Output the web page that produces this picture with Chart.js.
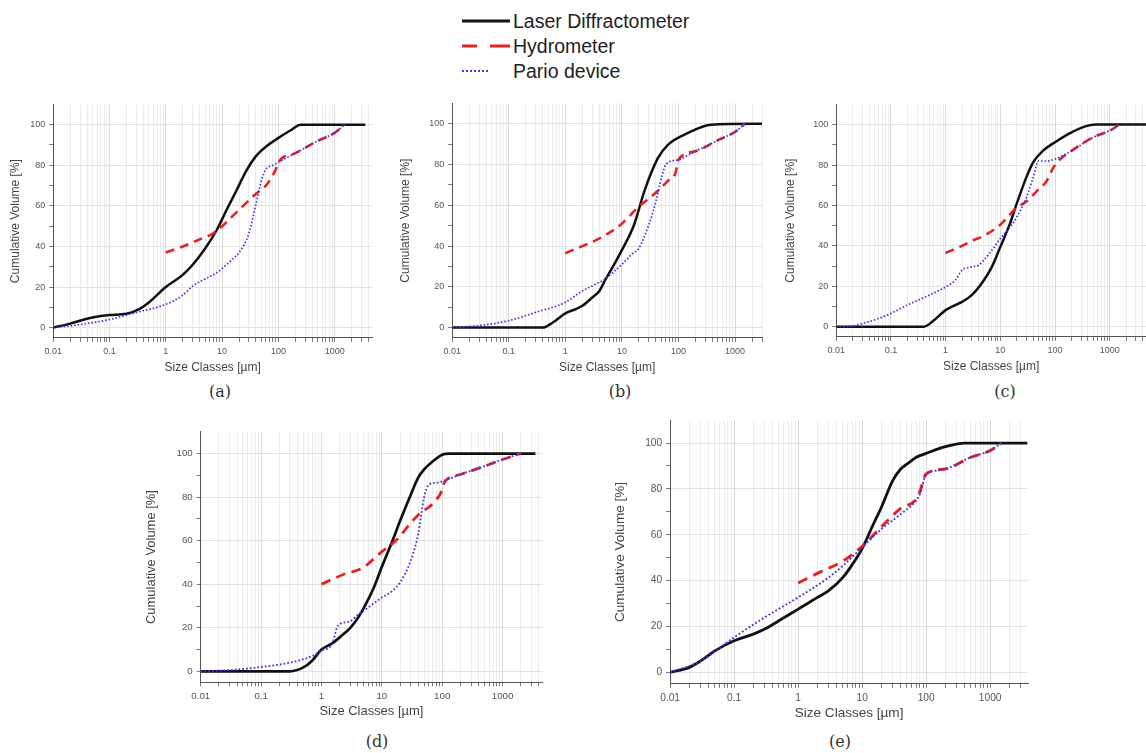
<!DOCTYPE html>
<html>
<head>
<meta charset="utf-8">
<script src="https://cdn.jsdelivr.net/npm/chart.js@4.4.0/dist/chart.umd.min.js"></script>
<style>
  html, body { margin: 0; padding: 0; background: #fff; width: 1146px; height: 753px; overflow: hidden; }
  canvas { position: absolute; }
  .tag { position: absolute; font-family: "DejaVu Serif", serif; font-size: 16px; color: #333; transform: translate(-50%, -50%); }
  .key { position: absolute; left: 462px; height: 24px; display: flex; align-items: center; font-family: "Liberation Sans", Arial, sans-serif; font-size: 19.5px; color: #222; }
  .key svg { margin-right: 3px; }
</style>
</head>
<body>

<div class="key" style="top:9px"><svg width="48" height="6"><line x1="0" y1="3" x2="48" y2="3" stroke="#111" stroke-width="3"/></svg>Laser Diffractometer</div>
<div class="key" style="top:34px"><svg width="48" height="6"><line x1="0" y1="3" x2="48" y2="3" stroke="#e52222" stroke-width="3" stroke-dasharray="15 13 20"/></svg>Hydrometer</div>
<div class="key" style="top:59px"><svg width="48" height="6"><line x1="0" y1="3" x2="28" y2="3" stroke="#3a3ae0" stroke-width="2" stroke-dasharray="2 2"/></svg>Pario device</div>

<canvas id="pa"></canvas>
<canvas id="pb"></canvas>
<canvas id="pc"></canvas>
<canvas id="pd"></canvas>
<canvas id="pe"></canvas>

<div class="tag" style="left:220px; top:391px">(a)</div>
<div class="tag" style="left:620px; top:391px">(b)</div>
<div class="tag" style="left:1005px; top:391px">(c)</div>
<div class="tag" style="left:377px; top:741px">(d)</div>
<div class="tag" style="left:840px; top:741px">(e)</div>

<script>
/* ---------- data ---------- */
const xTickLabels = ["0.01", "0.1", "1", "10", "100", "1000"];
const yTickLabels = [0, 20, 40, 60, 80, 100];

// (a)
const aLaserX = [0.01, 0.02, 0.05, 0.1, 0.2, 0.35, 0.5, 1, 2, 3, 5, 8, 12, 18, 27, 40, 63, 94, 160, 250, 3500];
const aLaserY = [0, 2, 5, 6.2, 6.8, 9.4, 12.4, 20, 26, 31, 39, 48, 58, 67.6, 77.4, 84.5, 89.6, 93, 97, 100, 100];
const aHydroX = [1, 2, 4, 7, 10, 20, 40, 60, 90, 100, 200, 500, 1000, 1500];
const aHydroY = [37, 40, 43.5, 46.5, 50, 58, 66, 70, 78, 81.5, 86, 92, 96, 100];
const aParioX = [0.01, 0.03, 0.1, 0.3, 1, 2, 3, 5, 8, 15, 20, 30, 40, 50, 60, 80, 100, 200, 500, 1000, 1500];
const aParioY = [0, 1.5, 4, 7.5, 11.5, 16, 20.5, 24, 27, 33.5, 37, 46.5, 61, 72.5, 78, 80, 81.5, 86, 92, 96, 100];

// (b)
const bLaserX = [0.01, 0.4, 0.6, 1, 1.5, 2, 3, 4, 5, 7.3, 10, 16.5, 25, 43, 65, 145, 380, 3000];
const bLaserY = [0, 0, 2.5, 7, 9, 10.7, 14.8, 18, 23, 31, 38, 50.6, 67, 83, 89.7, 95.4, 99.5, 100];
const bHydroX = [1, 2, 4.2, 9.6, 19, 43, 65, 89, 100, 200, 500, 1000, 1500];
const bHydroY = [36.5, 40, 44, 50.6, 58.8, 67, 72, 76, 82.4, 86.5, 92, 96, 100];
const bParioX = [0.01, 0.03, 0.1, 0.3, 1, 2, 3, 5, 10, 15, 20, 30, 40, 50, 60, 100, 200, 500, 1000, 1500];
const bParioY = [0, 1, 3.4, 7.5, 12.4, 18, 20.5, 23.8, 31, 36, 39, 50.6, 62, 73.5, 80, 82.4, 86.5, 92, 96, 100];

// (c)
const cLaserX = [0.01, 0.4, 0.6, 1, 1.5, 2, 3, 5, 7, 10, 15, 20, 30, 40, 60, 100, 200, 400, 600, 4600];
const cLaserY = [0, 0, 3, 8.2, 10.7, 12.3, 15.6, 23, 29.6, 39.5, 51, 61, 74, 81.4, 87, 91.3, 96.2, 99.5, 100, 100];
const cHydroX = [1, 2, 3, 5, 10, 20, 30, 50, 70, 90, 110, 200, 500, 1000, 1500];
const cHydroY = [36.5, 40, 42.5, 45, 50.5, 59, 62, 68, 72, 78, 81.5, 87, 93.7, 97, 100];
const cParioX = [0.01, 0.02, 0.03, 0.05, 0.1, 0.2, 0.5, 1, 1.5, 2, 3, 4, 5, 7, 10, 15, 20, 30, 40, 50, 70, 100, 200, 500, 1000, 1500];
const cParioY = [0, 0.3, 1.6, 3.3, 6.6, 10.7, 15.6, 19.7, 23, 28, 29.6, 30.4, 33, 37.8, 43.6, 49.3, 54.3, 64, 74, 82, 82, 83, 87, 93.7, 97, 100];

// (d)
const dLaserX = [0.01, 0.3, 0.5, 0.7, 1, 1.5, 2, 3, 4, 5, 7.5, 10, 15, 20, 30, 40, 50, 70, 100, 130, 3500];
const dLaserY = [0, 0, 1.8, 4.9, 10, 12.8, 15.6, 20, 24.5, 29, 39, 48, 60, 69, 81, 89, 92.7, 96.5, 99.5, 100, 100];
const dHydroX = [1, 2.3, 4.8, 10, 17, 32, 47, 61, 75, 95, 110, 200, 500, 1000, 2000];
const dHydroY = [40, 44.5, 47.5, 55, 60, 69, 73.5, 75.5, 78, 82, 87, 90.4, 94.2, 97.3, 100];
const dParioX = [0.01, 0.03, 0.1, 0.3, 0.7, 1, 1.5, 1.8, 2, 3, 4, 5, 10, 15, 20, 30, 40, 50, 60, 80, 100, 200, 500, 1000, 2000];
const dParioY = [0, 0.6, 2, 4, 7, 9.5, 12.5, 20, 21.7, 23, 26, 27.8, 33.9, 37, 40.8, 50.7, 63, 79.7, 85.8, 86.6, 87.3, 90.4, 94.2, 97.3, 100];

// (e)
const eLaserX = [0.01, 0.02, 0.03, 0.05, 0.1, 0.2, 0.3, 0.5, 1, 2, 3, 5, 7, 10, 15, 20, 30, 40, 50, 70, 100, 200, 400, 3800];
const eLaserY = [0, 2.2, 5, 9.4, 13.8, 16.7, 18.9, 22.5, 27.6, 32.7, 35.6, 41.4, 47, 54, 64.7, 72, 83.6, 88.7, 90.8, 93.8, 95.5, 98.4, 100, 100];
const eHydroX = [1, 2.5, 5, 10, 20, 40, 70, 80, 100, 200, 500, 1000, 1500];
const eHydroY = [39, 44.5, 48.5, 55, 63.5, 71.5, 75.5, 79, 86.5, 88.7, 93.8, 96.7, 100];
const eParioX = [0.01, 0.03, 0.1, 0.3, 1, 3, 5, 10, 20, 40, 70, 80, 100, 150, 200, 500, 1000, 1500];
const eParioY = [0, 5, 15.3, 24, 32.7, 41.4, 46.5, 54.5, 62.5, 69, 75, 77.8, 86.5, 88, 88.7, 93.8, 96.7, 100];

/* ---------- helpers ---------- */
const pts = (xs, ys) => xs.map((x, i) => ({ x: x, y: ys[i] }));

// 1..9 x 10^n grid values between 0.01 and max
function logTicks(max) {
  const out = [];
  for (let p = -2; p <= 4; p++) {
    for (let m = 1; m <= 9; m++) {
      const v = +(m * Math.pow(10, p)).toPrecision(6);
      if (v <= max) out.push(v);
    }
  }
  return out;
}
const isDecade = (v) => Math.abs(Math.log10(v) - Math.round(Math.log10(v))) < 1e-9;

/* ---------- one panel ---------- */
// box = plot area on the page: L, T, R, B ; yt/xt = distance of axis titles from the axes
function panel(id, box, laser, hydro, pario, s) {
  const titleSize = 12 * s, tickSize = 9 * s;
  const lh = titleSize * 1.2;
  const yw = box.yt + lh / 2;
  const xh = box.xt + lh / 2;
  const padTop = 8, padRight = 6;

  const canvas = document.getElementById(id);
  const left = box.L - yw, top = box.T - padTop;
  canvas.style.left = left + "px";
  canvas.style.top = top + "px";
  canvas.width = box.R - left + padRight;
  canvas.height = box.B - top + xh;

  new Chart(canvas, {
    type: "line",
    data: {
      datasets: [
        { label: "Pario device", data: pario, borderColor: "#3a3ae0", borderWidth: 1.7 * s,
          borderDash: [1.6 * s, 1.9 * s], order: 0 },
        { label: "Hydrometer", data: hydro, borderColor: "#e52222", borderWidth: 2.6 * s,
          borderDash: [9 * s, 6 * s], order: 1 },
        { label: "Laser Diffractometer", data: laser, borderColor: "#111", borderWidth: 2.5 * s, order: 2 },
      ],
    },
    options: {
      responsive: false,
      animation: false,
      devicePixelRatio: 1,
      layout: { padding: { top: padTop, right: padRight, left: 0, bottom: 0 } },
      elements: { point: { radius: 0 }, line: { cubicInterpolationMode: "monotone", fill: false } },
      plugins: { legend: { display: false }, tooltip: { enabled: false } },
      scales: {
        x: {
          type: "logarithmic",
          min: 0.01,
          max: box.xmax,
          bounds: "data",
          afterBuildTicks: (sc) => { sc.ticks = logTicks(box.xmax).map((v) => ({ value: v })); },
          afterFit: (sc) => { sc.height = xh; },
          border: { color: "#555", width: 1 },
          grid: {
            color: (c) => (c.tick && isDecade(c.tick.value) ? "#dadada" : "#ececec"),
            tickColor: "#777",
            tickLength: 4,
          },
          ticks: {
            autoSkip: false,
            maxRotation: 0,
            padding: 4,
            color: "#555",
            font: { family: "Liberation Sans", size: tickSize },
            callback: (v) => (isDecade(v) ? xTickLabels[Math.round(Math.log10(v)) + 2] : ""),
          },
          title: { display: true, text: "Size Classes [µm]", color: "#444", padding: 0,
                   font: { family: "Liberation Sans", size: titleSize } },
        },
        y: {
          min: -5,
          max: 110,
          afterBuildTicks: (sc) => {
            const t = [];
            for (let v = 0; v <= 100; v += 10) t.push({ value: v });
            sc.ticks = t;
          },
          afterFit: (sc) => { sc.width = yw; },
          border: { color: "#555", width: 1 },
          grid: {
            color: (c) => (c.tick && yTickLabels.includes(c.tick.value) ? "#e2e2e2" : "transparent"),
            tickColor: "#777",
            tickLength: 4,
          },
          ticks: {
            padding: 4,
            color: "#555",
            font: { family: "Liberation Sans", size: tickSize },
            callback: (v) => (yTickLabels.includes(v) ? String(v) : ""),
          },
          title: { display: true, text: "Cumulative Volume [%]", color: "#444", padding: 0,
                   font: { family: "Liberation Sans", size: titleSize } },
        },
      },
    },
  });
}

panel("pa", { L: 53, T: 103, R: 372, B: 338, xmax: 4600, yt: 38, xt: 30 },
  pts(aLaserX, aLaserY), pts(aHydroX, aHydroY), pts(aParioX, aParioY), 1);
panel("pb", { L: 452, T: 102, R: 762, B: 338, xmax: 3000, yt: 47, xt: 30 },
  pts(bLaserX, bLaserY), pts(bHydroX, bHydroY), pts(bParioX, bParioY), 1);
panel("pc", { L: 836, T: 103, R: 1146, B: 337, xmax: 4600, yt: 46, xt: 30 },
  pts(cLaserX, cLaserY), pts(cHydroX, cHydroY), pts(cParioX, cParioY), 1);
panel("pd", { L: 201, T: 430, R: 543, B: 683, xmax: 4500, yt: 49, xt: 29 },
  pts(dLaserX, dLaserY), pts(dHydroX, dHydroY), pts(dParioX, dParioY), 1.08);
panel("pe", { L: 670, T: 418, R: 1028, B: 684, xmax: 3900, yt: 50, xt: 29 },
  pts(eLaserX, eLaserY), pts(eHydroX, eHydroY), pts(eParioX, eParioY), 1.13);
</script>
</body>
</html>
